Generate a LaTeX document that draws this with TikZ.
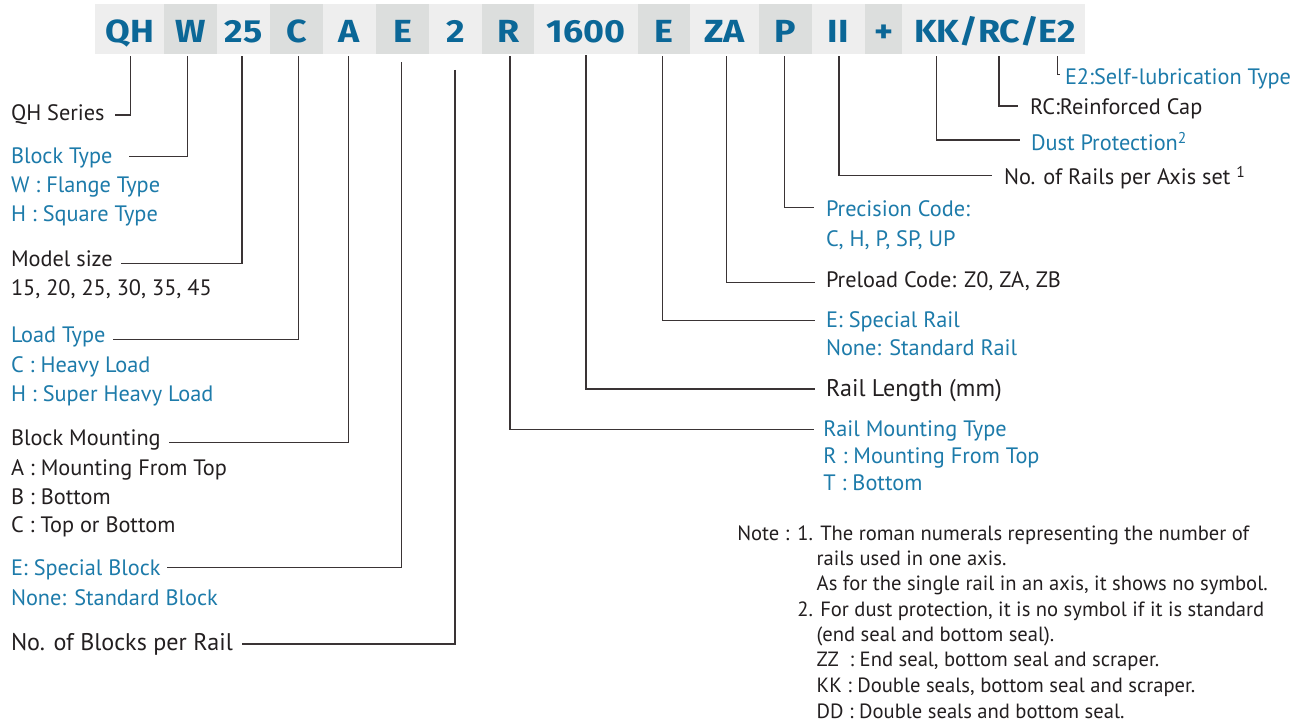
\documentclass[tikz,border=0pt]{standalone}
\usepackage{fontspec}
\setmainfont{PT Sans}
\newfontfamily\hdrfont{Fira Sans}
\definecolor{celllight}{HTML}{EEEEEE}
\definecolor{celldark}{HTML}{DCDEDD}
\definecolor{hdrblue}{HTML}{0B6797}
\definecolor{bodyblue}{HTML}{1D7BAA}
\definecolor{darktext}{HTML}{231F20}
\definecolor{linecol}{HTML}{3A3435}
\newcommand\hdr[1]{\scalebox{1.12}[1]{\hdrfont\bfseries\fontsize{32}{34}\selectfont #1}}
\tikzset{
  cellL/.style={fill=celllight, minimum height=50.3pt, inner sep=0pt, outer sep=0pt},
  cellD/.style={fill=celldark, minimum height=50.3pt, inner sep=0pt, outer sep=0pt},
  htext/.style={anchor=base, inner sep=0pt, outer sep=0pt, text=hdrblue},
  hpart/.style={anchor=base west, inner sep=0pt, outer sep=0pt, text=hdrblue},
  lab/.style={anchor=base west, inner sep=0pt, outer sep=0pt, font=\fontsize{22.3}{24}\selectfont},
  labB/.style={lab, text=bodyblue},
  labK/.style={lab, text=darktext},
  big/.style={font=\fontsize{24.1}{28}\selectfont},
  notetext/.style={anchor=base west, inner sep=0pt, outer sep=0pt, text=darktext, font=\fontsize{20.6}{22}\selectfont},
  conn/.style={draw=linecol, line width=1.3pt}
}
\begin{document}
\begin{tikzpicture}[x=1pt,y=-1pt]
\useasboundingbox (0,0) rectangle (1312,722);
\fill[white] (0,0) rectangle (1312,722);
% header cells
\node[cellL, minimum width=68.6pt] (hQH) at (129.7,29.15) {};
\node[cellD, minimum width=52.9pt] (hW) at (190.45,29.15) {};
\node[cellL, minimum width=52.9pt] (h25) at (243.35,29.15) {};
\node[cellD, minimum width=53.3pt] (hC) at (296.45,29.15) {};
\node[cellL, minimum width=52.9pt] (hA) at (349.55,29.15) {};
\node[cellD, minimum width=52.9pt] (hE) at (402.45,29.15) {};
\node[cellL, minimum width=53.3pt] (h2) at (455.55,29.15) {};
\node[cellD, minimum width=52.2pt] (hR) at (508.3,29.15) {};
\node[cellL, minimum width=103.6pt] (hL) at (586.2,29.15) {};
\node[cellD, minimum width=52pt] (hSE) at (664,29.15) {};
\node[cellL, minimum width=69pt] (hZA) at (724.5,29.15) {};
\node[cellD, minimum width=52.7pt] (hP) at (785.35,29.15) {};
\node[cellL, minimum width=53.3pt] (hII) at (838.35,29.15) {};
\node[cellD, minimum width=37.3pt] (hPl) at (883.65,29.15) {};
\node[cellL, minimum width=182.7pt] (hKK) at (993.65,29.15) {};
% header text
\node[htext] (tQH) at (129.7,42.7) {\hdr{QH}};
\node[htext] (tW) at (190.45,42.7) {\hdr{W}};
\node[htext] (t25) at (243.35,42.7) {\hdr{25}};
\node[htext] (tC) at (296.45,42.7) {\hdr{C}};
\node[htext] (tA) at (349.55,42.7) {\hdr{A}};
\node[htext] (tE) at (402.45,42.7) {\hdr{E}};
\node[htext] (t2) at (455.55,42.7) {\hdr{2}};
\node[htext] (tR) at (508.3,42.7) {\hdr{R}};
\node[htext] (tL) at (586.2,42.7) {\hdr{1600}};
\node[htext] (tSE) at (664,42.7) {\hdr{E}};
\node[htext] (tZA) at (724.5,42.7) {\hdr{ZA}};
\node[htext] (tP) at (785.35,42.7) {\hdr{P}};
\node[htext] (tII) at (838.35,42.7) {\hdr{II}};
\node[htext] (tPl) at (883.65,42.7) {\hdr{+}};
\node[hpart] (tKK) at (914,42.7) {\hdr{KK}};
\node[hpart] (tS1) at (tKK.base east) {\hdr{/}};
\node[hpart] (tRC) at (tS1.base east) {\hdr{RC}};
\node[hpart] (tS2) at (tRC.base east) {\hdr{/}};
\node[hpart] (tE2) at (tS2.base east) {\hdr{E2}};
\coordinate (kKK) at (tKK.south |- hKK.south);
\coordinate (kRC) at (tRC.south |- hKK.south);
\coordinate (kE2) at (tE2.south |- hKK.south);
% left labels
\node[labK] (lQH) at (11,121) {QH Series};
\node[labB] (lBT) at (11,164) {Block Type};
\node[labB] (lBT2) at (11,192.7) {W : Flange Type};
\node[labB] (lBT3) at (11,221.7) {H : Square Type};
\node[labK] (lMS) at (11,266.7) {Model size};
\node[labK] (lMS2) at (11,295) {15, 20, 25, 30, 35, 45};
\node[labB] (lLT) at (11,342.7) {Load Type};
\node[labB] (lLT2) at (11,372.7) {C : Heavy Load};
\node[labB] (lLT3) at (11,401.7) {H : Super Heavy Load};
\node[labK] (lBM) at (11,445) {Block Mounting};
\node[labK] (lBM2) at (11,475) {A : Mounting From Top};
\node[labK] (lBM3) at (11,504) {B : Bottom};
\node[labK] (lBM4) at (11,532.7) {C : Top or Bottom};
\node[labB] (lES) at (11,575) {E: Special Block};
\node[labB] (lES2) at (11,605) {None: Standard Block};
\node[labK, big] (lNB) at (11,650) {No. of Blocks per Rail};
% right labels
\node[labB] (lE2) at (1065,85) {E2:Self-lubrication Type};
\node[labK] (lRC) at (1030,115) {RC:Reinforced Cap};
\node[labB] (lDP) at (1031,151) {Dust Protection\textsuperscript{2}};
\node[labK] (lNR) at (1004,185) {No. of Rails per Axis set \textsuperscript{1}};
\node[labB] (lPC) at (826,216.7) {Precision Code:};
\node[labB] (lPC2) at (826,246.7) {C, H, P, SP, UP};
\node[labK] (lPL) at (826,287.7) {Preload Code: Z0, ZA, ZB};
\node[labB] (lSR) at (826,327.3) {E: Special Rail};
\node[labB] (lSR2) at (826,355) {None: Standard Rail};
\node[labK, big] (lRL) at (826,396.7) {Rail Length (mm)};
\node[labB] (lRM) at (823.3,436) {Rail Mounting Type};
\node[labB] (lRM2) at (823.3,463.3) {R : Mounting From Top};
\node[labB] (lRM3) at (823.3,490.7) {T : Bottom};
% notes
\node[notetext] (n0) at (737.3,540) {Note :};
\node[notetext] (n1) at (797.3,540) {1. The roman numerals representing the number of};
\node[notetext] (n2) at (816.7,565) {rails used in one axis.};
\node[notetext] (n3) at (816.7,590) {As for the single rail in an axis, it shows no symbol.};
\node[notetext] (n4) at (797.3,616) {2. For dust protection, it is no symbol if it is standard};
\node[notetext] (n5) at (816.7,641) {(end seal and bottom seal).};
\node[notetext] (n6) at (816.7,666.7) {ZZ\ \ : End seal, bottom seal and scraper.};
\node[notetext] (n7) at (816.7,692.7) {KK : Double seals, bottom seal and scraper.};
\node[notetext] (n8) at (816.7,718.3) {DD : Double seals and bottom seal.};
% left connectors
\draw[conn] ([xshift=0.7pt,yshift=-2pt]hQH.south) |- ([xshift=10pt,yshift=6pt]lQH.base east);
\draw[conn] ([xshift=-2.85pt,yshift=-2pt]hW.south) |- ([xshift=17pt,yshift=7.3pt]lBT.base east);
\draw[conn] ([xshift=-1.35pt,yshift=-2pt]h25.south) |- ([xshift=8pt,yshift=3.4pt]lMS.base east);
\draw[conn] ([xshift=1.95pt,yshift=-2pt]hC.south) |- ([xshift=8pt,yshift=3.4pt]lLT.base east);
\draw[conn] ([xshift=-1.4pt,yshift=-2pt]hA.south) |- ([xshift=8pt,yshift=2.3pt]lBM.base east);
\draw[conn] ([xshift=-0.75pt,yshift=-8pt]hE.south) |- ([xshift=6pt,yshift=7.7pt]lES.base east);
\draw[conn] ([xshift=-0.55pt,yshift=-15.7pt]h2.south) |- ([xshift=8.7pt,yshift=6pt]lNB.base east);
% right connectors
\draw[conn] ([xshift=1.7pt,yshift=-2pt]hR.south) |- ([xshift=-9pt,yshift=6.7pt]lRM.base west);
\draw[conn] ([xshift=-0.2pt,yshift=-1pt]hL.south) |- ([xshift=-11.4pt,yshift=7.7pt]lRL.base west);
\draw[conn] ([xshift=-1.7pt,yshift=-2pt]hSE.south) |- ([xshift=-11.4pt,yshift=6.6pt]lSR.base west);
\draw[conn] ([xshift=2.2pt,yshift=-2pt]hZA.south) |- ([xshift=-11.4pt,yshift=5pt]lPL.base west);
\draw[conn] ([xshift=-1pt,yshift=-2pt]hP.south) |- ([xshift=-11.7pt,yshift=9pt]lPC.base west);
\draw[conn] ([xshift=0.65pt,yshift=-2pt]hII.south) |- ([xshift=-11.7pt,yshift=9.3pt]lNR.base west);
\draw[conn] ([yshift=-2pt]kKK) |- ([xshift=-11pt,yshift=11pt]lDP.base west);
\draw[conn] ([yshift=-2pt]kRC) |- ([xshift=-11.7pt,yshift=9pt]lRC.base west);
\draw[conn] ([yshift=-2pt]kE2) |- ([xshift=-5pt,yshift=10.7pt]lE2.base west);
\end{tikzpicture}
\end{document}
